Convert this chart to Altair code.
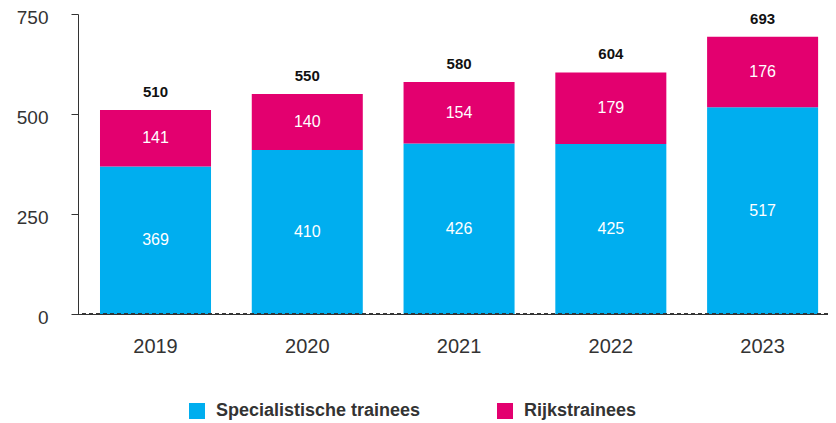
import altair as alt
import pandas as pd

years = ["2019", "2020", "2021", "2022", "2023"]
specialist = [369, 410, 426, 425, 517]
rijk = [141, 140, 154, 179, 176]
series = ["Specialistische trainees", "Rijkstrainees"]
colors = ["#00AEEF", "#E3006F"]

rows = []
for i, y in enumerate(years):
    rows.append({"year": y, "series": series[0], "value": specialist[i], "ord": 0})
    rows.append({"year": y, "series": series[1], "value": rijk[i], "ord": 1})
df = pd.DataFrame(rows)
totals = pd.DataFrame({"year": years, "total": [s + r for s, r in zip(specialist, rijk)]})

FONT = "Liberation Sans"

x = alt.X("year:N", title=None,
          scale=alt.Scale(paddingInner=0.2685, paddingOuter=0.105, align=0.69),
          axis=alt.Axis(labelAngle=0, ticks=False, labelFontSize=20, labelColor="#333",
                        labelPadding=22, domainColor="#333", labelFont=FONT))

bars = alt.Chart(df).mark_bar().encode(
    x=x,
    y=alt.Y("value:Q", stack="zero", title=None,
            scale=alt.Scale(domain=[0, 750], nice=False),
            axis=alt.Axis(values=[0, 250, 500, 750], grid=False, labelFontSize=19,
                          labelColor="#333", labelPadding=23, labelOffset=3, tickSize=7,
                          tickColor="#333", domainColor="#333", labelFont=FONT)),
    color=alt.Color("series:N", scale=alt.Scale(domain=series, range=colors),
                    legend=alt.Legend(title=None, orient="none", direction="horizontal",
                                      legendX=110, legendY=388, symbolType="square",
                                      symbolSize=256, symbolStrokeWidth=0, labelFontSize=18,
                                      labelFontWeight="bold", labelColor="#333",
                                      labelFont=FONT, columnPadding=75, symbolOffset=0,
                                      labelOffset=10, labelLimit=400)),
    order=alt.Order("ord:Q"),
)

inner = alt.Chart(df).transform_stack(
    stack="value", groupby=["year"], as_=["y0", "y1"], sort=[alt.SortField("ord")]
).transform_calculate(mid="(datum.y0 + datum.y1) / 2").mark_text(
    color="white", fontSize=16, font=FONT, baseline="middle"
).encode(x=x, y=alt.Y("mid:Q"), text="value:Q")

tot = alt.Chart(totals).mark_text(
    color="#111", fontSize=15, fontWeight="bold", font=FONT, baseline="bottom", dy=-10
).encode(x=x, y=alt.Y("total:Q"), text="total:Q")

base = alt.Chart(totals).mark_rule(color="#333", strokeDash=[4, 3], strokeWidth=1).encode(
    y=alt.datum(0))

chart = alt.layer(bars, base, inner, tot).properties(
    width=750, height=300,
    autosize=alt.AutoSizeParams(type="none"),
    padding={"left": 70, "top": 6, "right": 0, "bottom": 109},
).configure_view(stroke=None)

chart.save("out.html", embed_options={"renderer": "svg", "actions": False})
